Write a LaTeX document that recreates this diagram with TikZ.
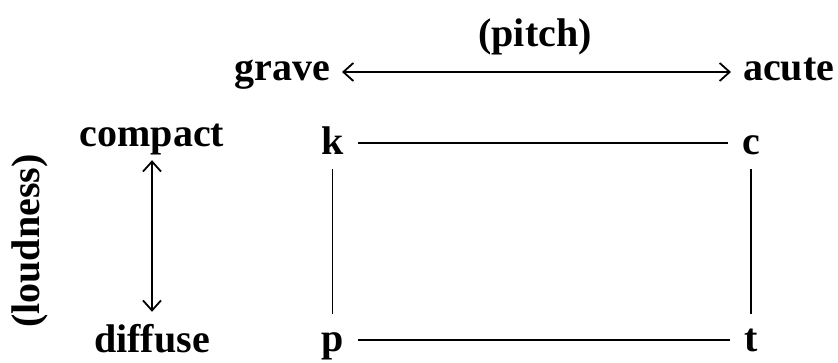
\documentclass[tikz,border=0pt]{standalone}
\usepackage{fontspec}
\setmainfont{Liberation Serif}
\usetikzlibrary{arrows.meta}
\begin{document}
\begin{tikzpicture}[x=1pt,y=1pt,
  every node/.style={font=\fontsize{40}{44}\selectfont\bfseries},
  lab/.style={text height=27pt,text depth=9pt,inner xsep=12pt,inner ysep=0pt},
  ph/.style={text height=24pt,text depth=0pt,inner sep=14pt},
  conn/.style={line width=1.8pt},
  dbl/.style={conn,{Straight Barb[length=10pt,width=18pt]}-{Straight Barb[length=10pt,width=18pt]}}]
\useasboundingbox (0,0) rectangle (838,363);
\node[anchor=base] (pitch) at (535,316) {(pitch)};
\node[lab,anchor=base east] (grave) at (342,282) {grave};
\node[lab,anchor=base west] (acute) at (731,282) {acute};
\draw[dbl] (grave) -- (acute);
\node[lab,inner xsep=0pt,anchor=base] (compact) at (152,216) {compact};
\node[lab,inner xsep=0pt,anchor=base] (diffuse) at (152,10) {diffuse};
\draw[dbl,shorten <=4pt,shorten >=14pt] (compact) -- (diffuse);
\node[rotate=90] (loudness) at (30,122) {(loudness)};
\node[ph,anchor=base] (k) at (332.5,208) {k};
\node[ph,anchor=base] (c) at (751,208) {c};
\node[ph,anchor=base] (p) at (332.5,11) {p};
\node[ph,anchor=base] (t) at (751,11) {t};
\draw[conn] (k) -- (c);
\draw[conn] (c) -- (t);
\draw[conn] (t) -- (p);
\draw[conn] (p) -- (k);
\end{tikzpicture}
\end{document}
